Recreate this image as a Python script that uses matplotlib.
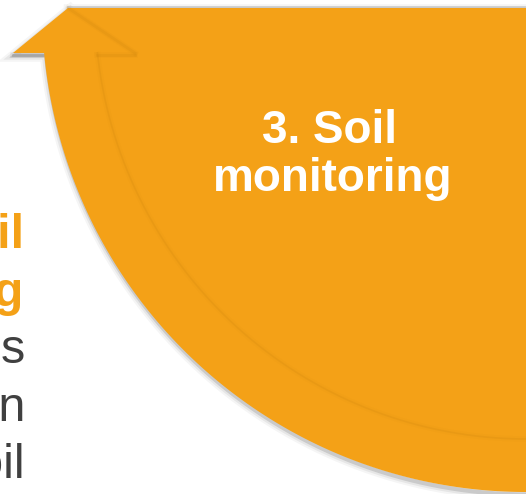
import numpy as np
import matplotlib.pyplot as plt

# shape geometry (pixels, y down)
center = (526, 8)
outer_r = 484
inner_r = 432
top_y = 8
wing_y = 53
tip_x = 68
wing_left = 13
wing_right = 135

title_lines = ["3. Soil", "monitoring"]
side_bold = ["2. Soil", "sampling"]
side_body = ["Collect samples", "across each zone in", "the field soil"]

orange = "#F4A117"
dark_orange = "#C9800C"
gray_text = "#404040"

fig = plt.figure(figsize=(5.26, 4.94), dpi=100)
ax = fig.add_axes([0, 0, 1, 1])
ax.set_xlim(0, 526)
ax.set_ylim(494, 0)
ax.axis("off")

cx, cy = center
t0 = np.arcsin((wing_y - cy) / outer_r)
t = np.linspace(np.pi / 2, t0, 200)
ox = cx - outer_r * np.cos(t)
oy = cy + outer_r * np.sin(t)

xs = np.concatenate([[tip_x, 560, 560], ox, [wing_left, tip_x]])
ys = np.concatenate([[top_y, top_y, oy[0]], oy, [wing_y, top_y]])

# soft drop shadow
for w, a in [(9, 0.04), (6, 0.06), (3, 0.12)]:
    ax.plot(xs + 2, ys + 2.5, color="black", lw=w, alpha=a,
            solid_joinstyle="miter", zorder=1)
ax.plot([tip_x, 560], [top_y - 1, top_y - 1], color="black", lw=2, alpha=0.12, zorder=1)

ax.fill(xs, ys, color=orange, lw=0, zorder=2)

# inner arc seam (arrow shaft over the disc)
t1 = np.arcsin((wing_y - cy) / inner_r)
ti = np.linspace(t1, np.pi / 2, 200)
ix = cx - inner_r * np.cos(ti)
iy = cy + inner_r * np.sin(ti)
for w, a in [(4, 0.05), (1.2, 0.18)]:
    ax.plot(ix + 1, iy - 1, color=dark_orange, lw=w, alpha=a,
            solid_capstyle="butt", zorder=3)

# arrowhead edges
for w, a in [(4, 0.06), (2, 0.12)]:
    ax.plot([tip_x, wing_right], [top_y, wing_y], color="#B87508", lw=w, alpha=a, zorder=3)
    ax.plot([ix[0] + 1, wing_right], [wing_y + 2, wing_y + 2], color="#B87508",
            lw=w, alpha=a, zorder=3)
    ax.plot([wing_left, ox[-1]], [wing_y + 2, wing_y + 2], color="black",
            lw=w, alpha=a, zorder=1)
ax.fill([tip_x, wing_right, ix[0] + 1, ix[0] - 6, tip_x],
        [top_y, wing_y, wing_y, top_y + 20, top_y], color=orange, lw=0, zorder=2.5)

# title
ax.text(330, 143, title_lines[0], color="white", fontsize=33, fontweight="bold",
        family="Liberation Sans", ha="center", va="baseline", zorder=5)
ax.text(333, 191, title_lines[1], color="white", fontsize=33, fontweight="bold",
        family="Liberation Sans", ha="center", va="baseline", zorder=5)

# side text, cut off at the left edge
for y, s in zip([248, 306], side_bold):
    ax.text(24, y, s, color=orange, fontsize=35, fontweight="bold",
            family="Liberation Sans", ha="right", va="baseline", zorder=5)
for y, s in zip([363, 421, 478], side_body):
    ax.text(25, y, s, color=gray_text, fontsize=35,
            family="Liberation Sans", ha="right", va="baseline", zorder=5)

fig.savefig("out.png", dpi=100)
